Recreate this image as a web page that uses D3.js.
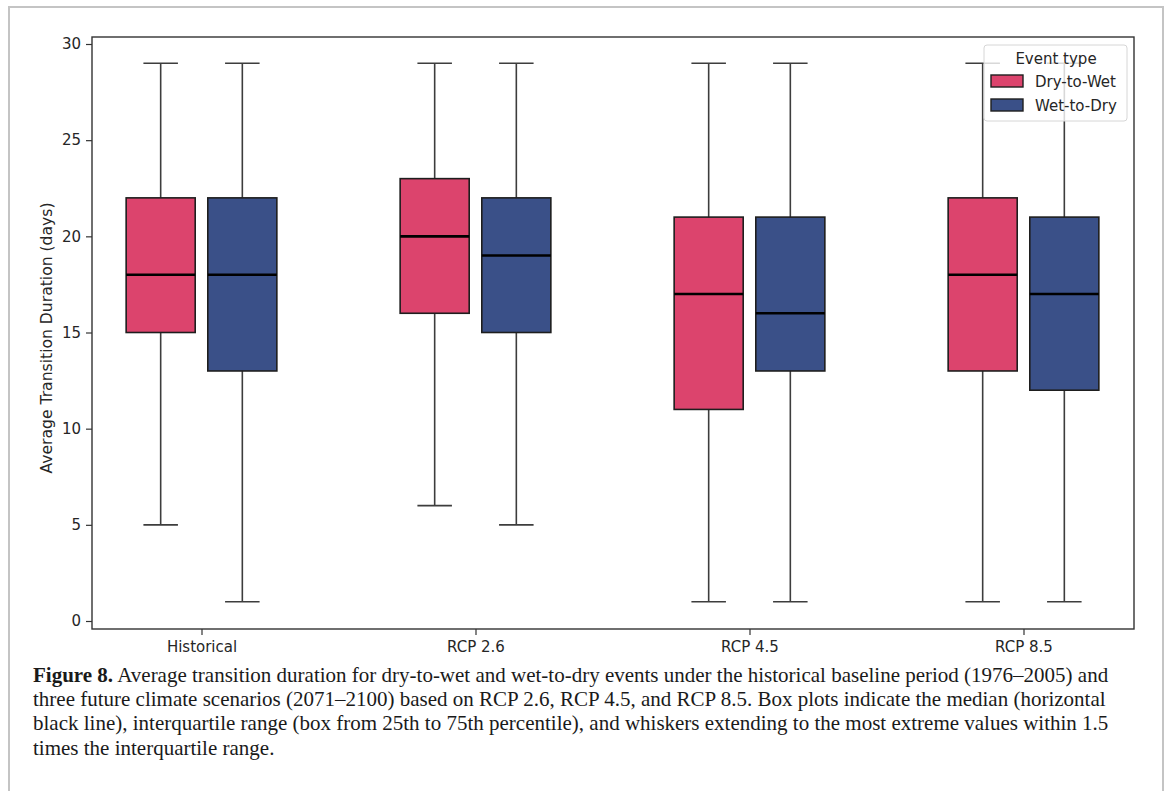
<!DOCTYPE html>
<html><head><meta charset="utf-8">
<script src="https://cdn.jsdelivr.net/npm/d3@7"></script>
<style>
body{margin:0;background:#fff;}
svg{display:block;}
</style></head>
<body>
<svg id="chart" width="1167" height="791"></svg>
<script>
const categories = ["Historical", "RCP 2.6", "RCP 4.5", "RCP 8.5"];
const eventTypes = ["Dry-to-Wet", "Wet-to-Dry"];
const colors = ["#DC446D", "#3A5088"];
// [whiskerLow, Q1, median, Q3, whiskerHigh]
const dryToWet = [[5,15,18,22,29],[6,16,20,23,29],[1,11,17,21,29],[1,13,18,22,29]];
const wetToDry = [[1,13,18,22,29],[5,15,19,22,29],[1,13,16,21,29],[1,12,17,21,29]];
const yTicks = [0,5,10,15,20,25,30];
const captionLines = [
  ["Figure 8.", " Average transition duration for dry-to-wet and wet-to-dry events under the historical baseline period (1976\u20132005) and"],
  ["", "three future climate scenarios (2071\u20132100) based on RCP 2.6, RCP 4.5, and RCP 8.5. Box plots indicate the median (horizontal"],
  ["", "black line), interquartile range (box from 25th to 75th percentile), and whiskers extending to the most extreme values within 1.5"],
  ["", "times the interquartile range."]
];

const svg = d3.select("#chart");
// outer page frame
svg.append("path").attr("d","M9,791 V7 H1163 V791").attr("fill","none").attr("stroke","#c4c4c4").attr("stroke-width",2);

const L=92, R=1134, T=37, B=629;
const xc = d3.scalePoint().domain(categories).range([201.5, 1023.5]);
const y = d3.scaleLinear().domain([0,30]).range([621,44]);

const g = svg.append("g");
const series = [dryToWet, wetToDry];
const step = xc.step();
const boxW = step*0.252;
const offsets = [-step*0.149, step*0.149];

series.forEach((data, si) => {
  data.forEach((d, ci) => {
    const cx = xc(categories[ci]) + offsets[si];
    const [lo,q1,med,q3,hi] = d;
    const grp = g.append("g");
    grp.append("line").attr("x1",cx).attr("x2",cx).attr("y1",y(hi)).attr("y2",y(q3)).attr("stroke","#3d3d3d").attr("stroke-width",1.6);
    grp.append("line").attr("x1",cx).attr("x2",cx).attr("y1",y(q1)).attr("y2",y(lo)).attr("stroke","#3d3d3d").attr("stroke-width",1.6);
    grp.append("line").attr("x1",cx-boxW/4).attr("x2",cx+boxW/4).attr("y1",y(hi)).attr("y2",y(hi)).attr("stroke","#3d3d3d").attr("stroke-width",1.6);
    grp.append("line").attr("x1",cx-boxW/4).attr("x2",cx+boxW/4).attr("y1",y(lo)).attr("y2",y(lo)).attr("stroke","#3d3d3d").attr("stroke-width",1.6);
    grp.append("rect").attr("x",cx-boxW/2).attr("y",y(q3)).attr("width",boxW).attr("height",y(q1)-y(q3))
      .attr("fill",colors[si]).attr("stroke","#1e1e1e").attr("stroke-width",1.6);
    grp.append("line").attr("x1",cx-boxW/2).attr("x2",cx+boxW/2).attr("y1",y(med)).attr("y2",y(med)).attr("stroke","#000").attr("stroke-width",2.6);
  });
});

// axes frame
g.append("rect").attr("x",L).attr("y",T).attr("width",R-L).attr("height",B-T).attr("fill","none").attr("stroke","#333").attr("stroke-width",1.4);

const yAxis = svg.append("g").attr("transform",`translate(${L},0)`).call(d3.axisLeft(y).tickValues(yTicks).tickSize(6).tickPadding(5));
yAxis.select(".domain").remove();
yAxis.selectAll("line").attr("stroke","#333").attr("stroke-width",1.2);
yAxis.selectAll("text").attr("font-family","DejaVu Sans").attr("font-size",15).attr("fill","#262626");

const xAxis = svg.append("g").attr("transform",`translate(0,${B})`).call(d3.axisBottom(xc).tickSize(6).tickPadding(6));
xAxis.select(".domain").remove();
xAxis.selectAll("line").attr("stroke","#333").attr("stroke-width",1.2);
xAxis.selectAll("text").attr("font-family","DejaVu Sans").attr("font-size",15).attr("fill","#262626");

svg.append("text").attr("transform","translate(52,338) rotate(-90)").attr("text-anchor","middle")
  .attr("font-family","DejaVu Sans").attr("font-size",15.6).attr("fill","#262626").text("Average Transition Duration (days)");

// legend
const lg = svg.append("g");
lg.append("rect").attr("x",984).attr("y",45).attr("width",143).attr("height",76).attr("rx",3)
  .attr("fill","rgba(255,255,255,0.8)").attr("stroke","#d6d6d6").attr("stroke-width",1);
lg.append("text").attr("x",1056).attr("y",64).attr("text-anchor","middle").attr("font-family","DejaVu Sans").attr("font-size",15).attr("fill","#262626").text("Event type");
eventTypes.forEach((t,i)=>{
  lg.append("rect").attr("x",991).attr("y",75+i*24).attr("width",32).attr("height",12).attr("fill",colors[i]).attr("stroke","#1e1e1e").attr("stroke-width",1.4);
  lg.append("text").attr("x",1035).attr("y",87+i*24).attr("font-family","DejaVu Sans").attr("font-size",15).attr("fill","#262626").text(t);
});

// caption
const cap = svg.append("g");
captionLines.forEach((ln,i)=>{
  const t = cap.append("text").attr("x",33).attr("y",682+i*24.2).attr("font-family","Liberation Serif").attr("font-size",21).attr("fill","#1a1a1a");
  if(ln[0]) t.append("tspan").attr("font-weight","bold").text(ln[0]);
  t.append("tspan").text(ln[1]);
});
</script>
</body></html>
